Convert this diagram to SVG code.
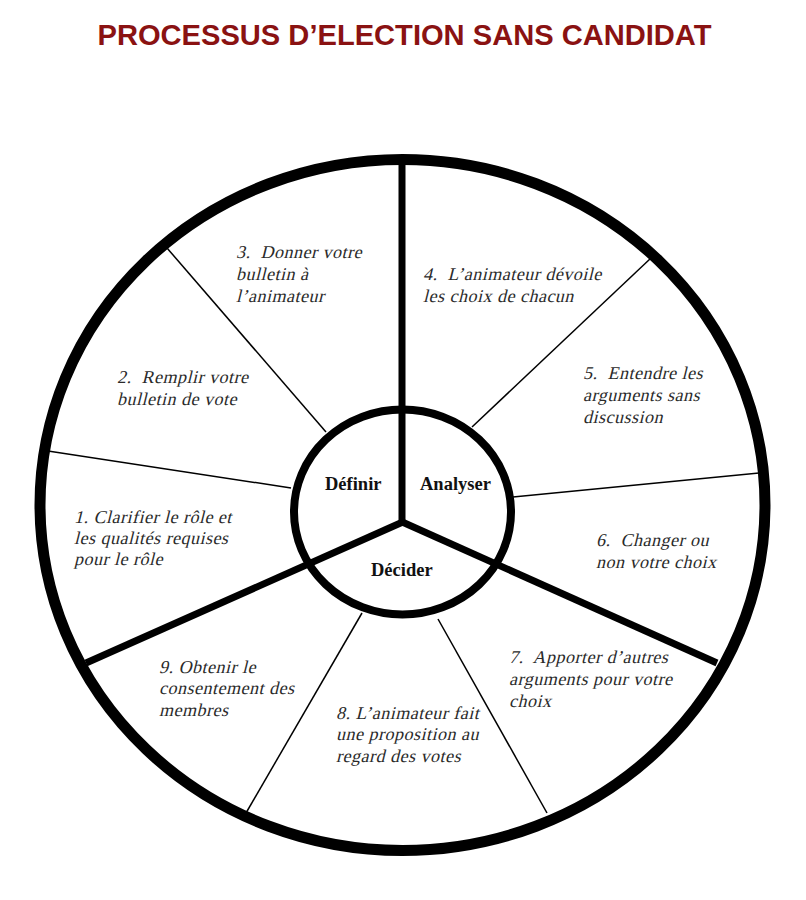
<svg xmlns="http://www.w3.org/2000/svg" width="806" height="900" viewBox="0 0 806 900">
<style>
.title{font-family:"Liberation Sans",Arial,sans-serif;font-weight:bold;font-size:29px;fill:#8a1212;}
.step{font-family:"Liberation Serif","Times New Roman",serif;font-size:18px;letter-spacing:0.5px;fill:#2a2a2a;white-space:pre;}
.phase{font-family:"Liberation Serif","Times New Roman",serif;font-weight:bold;font-size:18.5px;fill:#111;}
.ring{fill:none;stroke:#000;}
.thick{stroke:#000;stroke-width:7;fill:none;}
.thin{stroke:#000;stroke-width:1.5;fill:none;}
</style>
<rect width="806" height="900" fill="#fff"/>
<text class="title" x="404.5" y="45" text-anchor="middle" textLength="614" lengthAdjust="spacingAndGlyphs">PROCESSUS D’ELECTION SANS CANDIDAT</text>
<g id="connectors">
<line class="thin" x1="167" y1="248" x2="326" y2="432"/>
<line class="thin" x1="48" y1="451" x2="291" y2="488"/>
<line class="thin" x1="651" y1="258" x2="472" y2="427"/>
<line class="thin" x1="759" y1="473" x2="513" y2="497"/>
<line class="thin" x1="362" y1="613" x2="246" y2="813"/>
<line class="thin" x1="438" y1="619" x2="547" y2="813"/>
<line class="thick" x1="402" y1="160" x2="402" y2="522"/>
<line class="thick" x1="405" y1="521" x2="86" y2="663"/>
<line class="thick" x1="400" y1="521" x2="717" y2="663"/>
</g>
<g id="outer-wheel">
<ellipse class="ring" cx="402.5" cy="505" rx="362.5" ry="345.5" stroke-width="11"/>
</g>
<g id="inner-wheel">
<ellipse class="ring" cx="402.5" cy="512" rx="108.5" ry="102.5" stroke-width="8"/>
</g>
<g id="phase-definir"><text class="phase" x="325" y="490">Définir</text></g>
<g id="phase-analyser"><text class="phase" x="420" y="490">Analyser</text></g>
<g id="phase-decider"><text class="phase" x="371" y="576">Décider</text></g>
<g id="step-1">
<text class="step" transform="translate(74,523) skewX(-14)">1. Clarifier le rôle et</text>
<text class="step" transform="translate(74,544) skewX(-14)">les qualités requises</text>
<text class="step" transform="translate(74,565) skewX(-14)">pour le rôle</text>
</g>
<g id="step-2">
<text class="step" transform="translate(117,383) skewX(-14)" xml:space="preserve">2.  Remplir votre</text>
<text class="step" transform="translate(117,405) skewX(-14)">bulletin de vote</text>
</g>
<g id="step-3">
<text class="step" transform="translate(236,258) skewX(-14)" xml:space="preserve">3.  Donner votre</text>
<text class="step" transform="translate(236,280) skewX(-14)">bulletin à</text>
<text class="step" transform="translate(236,302) skewX(-14)">l’animateur</text>
</g>
<g id="step-4">
<text class="step" transform="translate(423,280) skewX(-14)" xml:space="preserve">4.  L’animateur dévoile</text>
<text class="step" transform="translate(423,302) skewX(-14)">les choix de chacun</text>
</g>
<g id="step-5">
<text class="step" transform="translate(583,379) skewX(-14)" xml:space="preserve">5.  Entendre les</text>
<text class="step" transform="translate(583,401) skewX(-14)">arguments sans</text>
<text class="step" transform="translate(583,423) skewX(-14)">discussion</text>
</g>
<g id="step-6">
<text class="step" transform="translate(596,546) skewX(-14)" xml:space="preserve">6.  Changer ou</text>
<text class="step" transform="translate(596,568) skewX(-14)">non votre choix</text>
</g>
<g id="step-7">
<text class="step" transform="translate(509,663) skewX(-14)" xml:space="preserve">7.  Apporter d’autres</text>
<text class="step" transform="translate(509,685) skewX(-14)">arguments pour votre</text>
<text class="step" transform="translate(509,707) skewX(-14)">choix</text>
</g>
<g id="step-8">
<text class="step" transform="translate(336,719) skewX(-14)">8. L’animateur fait</text>
<text class="step" transform="translate(336,740) skewX(-14)">une proposition au</text>
<text class="step" transform="translate(336,762) skewX(-14)">regard des votes</text>
</g>
<g id="step-9">
<text class="step" transform="translate(159,673) skewX(-14)">9. Obtenir le</text>
<text class="step" transform="translate(159,694) skewX(-14)">consentement des</text>
<text class="step" transform="translate(159,716) skewX(-14)">membres</text>
</g>
</svg>
